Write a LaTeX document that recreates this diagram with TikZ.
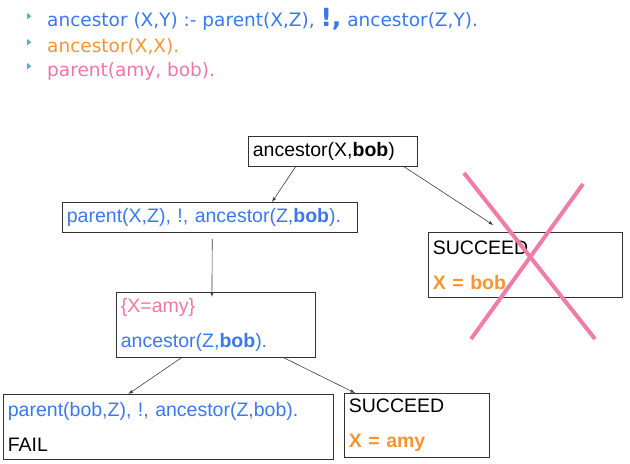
\documentclass[tikz,border=0pt]{standalone}
\usepackage{fontspec}
\setmainfont{Liberation Sans}
\newfontfamily\rulefont{DejaVu Sans}
\usetikzlibrary{calc}
\definecolor{goalblue}{RGB}{58,120,240}
\definecolor{goalorange}{RGB}{247,148,52}
\definecolor{goalpink}{RGB}{240,120,160}
\definecolor{crosspink}{RGB}{240,125,165}
\definecolor{bulletteal}{RGB}{90,175,195}
\definecolor{boxgray}{RGB}{50,50,50}
\definecolor{linegray}{RGB}{60,60,60}
\tikzset{
  goal/.style={draw=boxgray, line width=0.8bp, anchor=north west, inner xsep=4.5bp, inner ysep=0pt,
    align=left, font=\fontsize{19.5bp}{35bp}\selectfont},
  edge/.style={->, draw=linegray, line width=0.6bp},
  rule/.style={anchor=base west, inner sep=0pt, font=\rulefont\fontsize{18.5bp}{22bp}\selectfont},
  cross/.style={crosspink, line width=4bp}
}

\begin{document}
\begin{tikzpicture}[x=1bp, y=-1bp, >=latex]
  \useasboundingbox (0,0) rectangle (630,464);
  % Programm
  \node[rule, goalblue] (r1) at (47,27) {ancestor (X,Y) :- parent(X,Z), {\fontsize{25bp}{25bp}\selectfont\bfseries !,} ancestor(Z,Y).};
  \node[rule, goalorange] (r2) at (47,53) {ancestor(X,X).};
  \node[rule, goalpink] (r3) at (47,77) {parent(amy, bob).};
  \foreach \n in {r1,r2,r3}
    \fill[bulletteal] ($(\n.base west)+(-20,-14)$) -- ++(4.5,3.2) -- ++(-4.5,3.2) -- cycle;
  % Suchbaum
  \node[goal, text width=160bp, minimum height=30bp] (top) at (248,136) {ancestor(X,\textbf{bob})};
  \node[goal, text width=286bp, minimum height=30bp, text=goalblue] (par) at (62,202) {parent(X,Z), !, ancestor(Z,\textbf{bob}).};
  \node[goal, text width=185bp, minimum height=65bp] (bob) at (428,232) {SUCCEED\\\textcolor{goalorange}{\textbf{X = bob}}};
  \node[goal, text width=190bp, minimum height=65bp] (mid) at (116,292) {\textcolor{goalpink}{\{X=amy\}}\\\textcolor{goalblue}{ancestor(Z,\textbf{bob}).}};
  \node[goal, text width=321bp, minimum height=65bp] (fail) at (3,394) {\textcolor{goalblue}{parent(bob,Z), !, ancestor(Z,bob).}\\FAIL};
  \node[goal, text width=136bp, minimum height=64bp] (amy) at (344,393) {SUCCEED\\\textcolor{goalorange}{\textbf{X = amy}}};
  % Kanten
  \draw[edge] ($(top.south west)!0.28!(top.south east)$) -- ($(par.north west)!0.71!(par.north east)$);
  \draw[edge] ($(top.south west)!0.92!(top.south east)$) -- ($(bob.north west)!0.335!(bob.north east)+(0,-7)$);
  \draw[edge] ($(par.south west)!0.508!(par.south east)+(0,6)$) -- ($(mid.north west)!0.48!(mid.north east)+(0,5)$);
  \draw[edge] ($(mid.south west)!0.327!(mid.south east)$) -- ($(fail.north west)!0.379!(fail.north east)$);
  \draw[edge] ($(mid.south west)!0.84!(mid.south east)$) -- ($(amy.north west)!0.076!(amy.north east)$);
  % Kreuz
  \draw[cross] (464,173) -- (595,339);
  \draw[cross] (583,184) -- (471,339);
\end{tikzpicture}
\end{document}
